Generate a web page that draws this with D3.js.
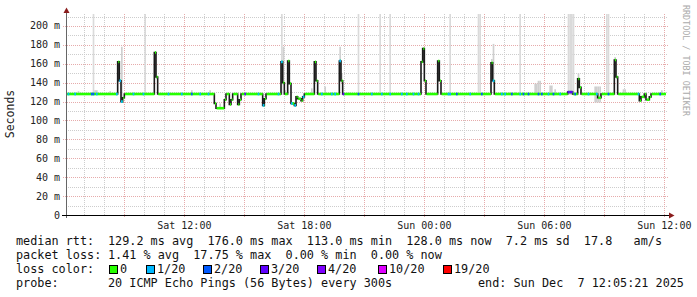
<html>
<head>
<style>
body { margin: 0; background: #fff; }
text { font-family: "DejaVu Sans Mono", monospace; }
</style>
</head>
<body>
<div id="chart"></div>
<script src="https://d3js.org/d3.v7.min.js"></script>
<script>

// median rtt, step changes (ms)
var rttChanges = [
  ["Sat 06:05",128],
  ["Sat 08:40",162],["Sat 08:45",142],["Sat 08:50",120],["Sat 08:55",124],["Sat 09:00",128],
  ["Sat 10:30",172],["Sat 10:35",146],["Sat 10:40",128],
  ["Sat 13:30",118],["Sat 13:35",113],["Sat 14:00",122],["Sat 14:05",128],["Sat 14:15",117],
  ["Sat 14:20",122],["Sat 14:25",128],["Sat 14:40",117],["Sat 14:45",122],["Sat 14:50",128],
  ["Sat 15:55",116],["Sat 16:00",123],["Sat 16:05",128],
  ["Sat 16:50",162],["Sat 16:55",140],["Sat 17:00",128],
  ["Sat 17:10",163],["Sat 17:15",139],["Sat 17:20",118],["Sat 17:30",116],["Sat 17:35",125],
  ["Sat 17:40",123],["Sat 17:50",121],["Sat 17:55",125],["Sat 18:00",128],
  ["Sat 18:30",162],["Sat 18:35",142],["Sat 18:40",128],
  ["Sat 19:45",163],["Sat 19:50",142],["Sat 19:55",128],
  ["Sat 23:50",162],["Sat 23:55",176],["Sun 00:00",142],["Sun 00:05",128],
  ["Sun 00:40",163],["Sun 00:45",142],["Sun 00:50",128],
  ["Sun 03:20",161],["Sun 03:25",142],["Sun 03:30",128],
  ["Sun 07:10",130],["Sun 07:25",128],
  ["Sun 07:40",144],["Sun 07:45",135],["Sun 07:50",128],
  ["Sun 08:40",124],["Sun 08:50",128],
  ["Sun 09:30",164],["Sun 09:35",146],["Sun 09:40",128],
  ["Sun 10:45",121],["Sun 10:50",125],["Sun 11:00",128],["Sun 11:05",122],["Sun 11:15",125],["Sun 11:20",128]
]

// lost pings (of 20) for the 5 min steps that had loss
var lossPoints = [
  ["Sat 06:10",1],["Sat 06:30",1],["Sat 07:20",2],["Sat 07:25",2],["Sat 07:35",1],["Sat 08:35",1],
  ["Sat 08:45",1],["Sat 08:50",1],["Sat 09:25",1],["Sat 09:55",1],["Sat 11:10",1],["Sat 11:50",1],
  ["Sat 12:20",2],["Sat 12:45",1],["Sat 13:10",1],["Sat 15:00",3],["Sat 15:40",1],["Sat 15:55",1],
  ["Sat 16:40",1],["Sat 16:50",1],["Sat 17:20",1],["Sat 17:30",1],["Sat 17:55",1],["Sat 18:50",1],
  ["Sat 19:20",1],["Sat 19:30",1],["Sat 19:45",1],["Sat 19:55",3],["Sat 20:40",2],["Sat 21:20",1],
  ["Sat 21:50",1],["Sat 22:15",1],["Sat 22:50",1],["Sat 23:05",1],["Sat 23:25",1],["Sat 23:40",1],
  ["Sun 01:10",1],["Sun 01:15",1],["Sun 01:35",2],["Sun 02:15",1],["Sun 02:50",2],["Sun 03:25",1],
  ["Sun 03:50",1],["Sun 04:00",1],["Sun 04:20",2],["Sun 04:45",1],["Sun 04:55",2],["Sun 05:10",2],
  ["Sun 05:40",2],["Sun 05:50",2],["Sun 06:10",1],["Sun 06:25",2],["Sun 06:45",1],["Sun 07:10",3],
  ["Sun 07:15",3],["Sun 07:20",3],["Sun 07:30",2],["Sun 08:10",1],["Sun 08:35",1],["Sun 09:10",2],
  ["Sun 10:40",1],["Sun 11:45",2]
]

// steps where some pings went above the top of the graph
var smokeTall = ["Sat 07:25","Sat 10:00","Sat 16:50","Sat 20:40","Sat 21:45","Sat 22:15",
  "Sun 01:15","Sun 02:40","Sun 02:45","Sun 04:45","Sun 07:10","Sun 07:15","Sun 07:20","Sun 07:25",
  "Sun 09:05","Sun 09:10"]

// smaller smoke: [time, low ms, high ms]
var smokeBumps = [
  ["Sat 06:40",127,131],["Sat 07:30",127,132],["Sat 07:35",127,132],["Sat 08:15",127,131],
  ["Sat 08:50",119,178],["Sat 10:35",144,147],["Sat 12:20",127,132],["Sat 13:15",127,132],
  ["Sat 13:45",112,118],["Sat 16:55",138,178],["Sat 17:00",127,132],["Sat 18:20",127,134],
  ["Sat 19:00",127,136],["Sat 19:45",160,178],["Sat 19:50",140,150],["Sat 20:10",127,130],
  ["Sun 03:20",159,165],["Sun 03:25",140,181],["Sun 04:15",127,130],["Sun 04:30",127,130],
  ["Sun 05:30",127,139],["Sun 05:35",127,139],["Sun 05:40",127,142],["Sun 05:45",127,142],
  ["Sun 06:15",127,137],["Sun 06:20",127,137],["Sun 06:30",127,133],["Sun 07:40",140,150],
  ["Sun 08:30",119,136],["Sun 08:35",119,136],["Sun 08:40",119,136],["Sun 08:45",119,136],
  ["Sun 09:30",160,167],["Sun 09:35",144,147],["Sun 09:55",127,133],["Sun 10:00",127,133],
  ["Sun 11:50",127,132]
]

var yTicks = [0,20,40,60,80,100,120,140,160,180,200]
var xLabels = ["Sat 12:00","Sat 18:00","Sun 00:00","Sun 06:00","Sun 12:00"]

var lossLevels = [0,1,2,3,4,10,19]
var lossNames = ["0","1/20","2/20","3/20","4/20","10/20","19/20"]
var lossColors = ["#26ff00","#00b8ff","#0059ff","#5e00ff","#7e00ff","#dd00ff","#ff0000"]

var legendRows = [
  ["median rtt:", "129.2 ms avg  176.0 ms max  113.0 ms min  128.0 ms now  7.2 ms sd  17.8   am/s"],
  ["packet loss:", "1.41 % avg  17.75 % max  0.00 % min  0.00 % now"]
]
var probeText = "20 ICMP Echo Pings (56 Bytes) every 300s"
var endText = "end: Sun Dec  7 12:05:21 2025"

function parseT(s){
  var day = s.slice(0,3) == "Sat" ? 6 : 7
  var hm = s.slice(4).split(":")
  return new Date(2025, 11, day, +hm[0], +hm[1])
}

var start = new Date(2025, 11, 6, 6, 5)
var end = new Date(2025, 11, 7, 12, 5)
var STEP = 5*60*1000

var svg = d3.select("#chart").append("svg")
  .attr("width", 697).attr("height", 297)
  .style("background", "#fff")

var x = d3.scaleTime().domain([start, end]).range([66, 666])
var y = d3.scaleLinear().domain([0, 211.6]).range([215, 15])

// grid
var hours = d3.timeHour.every(1).range(start, end)
svg.append("g").selectAll("line")
  .data(hours.filter(d => d.getHours() % 3 != 0))
  .enter().append("line")
  .attr("x1", d => Math.round(x(d)) + 0.5).attr("x2", d => Math.round(x(d)) + 0.5)
  .attr("y1", 14).attr("y2", 215)
  .attr("stroke", "#cdcdcd").attr("stroke-dasharray", "1,1")

var minorY = d3.range(10, 211, 20)
svg.append("g").selectAll("line")
  .data(minorY)
  .enter().append("line")
  .attr("x1", 66).attr("x2", 668)
  .attr("y1", d => Math.round(y(d)) + 0.5).attr("y2", d => Math.round(y(d)) + 0.5)
  .attr("stroke", "#cdcdcd").attr("stroke-dasharray", "1,1")

svg.append("g").selectAll("line")
  .data(hours.filter(d => d.getHours() % 3 == 0))
  .enter().append("line")
  .attr("x1", d => Math.round(x(d)) + 0.5).attr("x2", d => Math.round(x(d)) + 0.5)
  .attr("y1", 14).attr("y2", 218)
  .attr("stroke", "#e6abab").attr("stroke-dasharray", "1,1")

svg.append("g").selectAll("line")
  .data(yTicks.slice(1))
  .enter().append("line")
  .attr("x1", 63).attr("x2", 668)
  .attr("y1", d => Math.round(y(d)) + 0.5).attr("y2", d => Math.round(y(d)) + 0.5)
  .attr("stroke", "#e6abab").attr("stroke-dasharray", "1,1")

// smoke
var stepW = x(new Date(start.getTime() + STEP)) - x(start)
svg.append("g").selectAll("rect")
  .data(smokeTall)
  .enter().append("rect")
  .attr("x", d => x(parseT(d)))
  .attr("width", stepW)
  .attr("y", 14)
  .attr("height", y(127) - 14)
  .attr("fill", "#dadada")

svg.append("g").selectAll("rect")
  .data(smokeBumps)
  .enter().append("rect")
  .attr("x", d => x(parseT(d[0])))
  .attr("width", stepW)
  .attr("y", d => y(d[2]))
  .attr("height", d => y(d[1]) - y(d[2]))
  .attr("fill", "#cfcfcf")

// median
var rtt = rttChanges.map(d => ({t: parseT(d[0]), v: d[1]}))
rtt.push({t: end, v: rtt[rtt.length-1].v})

var line = d3.line().x(d => x(d.t)).y(d => y(d.v)).curve(d3.curveStepAfter)
svg.append("path")
  .attr("d", line(rtt))
  .attr("fill", "none")
  .attr("stroke", "#1a1a1a")
  .attr("stroke-width", 1.6)

svg.append("g").selectAll("rect")
  .data(rtt.slice(0, -1))
  .enter().append("rect")
  .attr("x", (d,i) => x(d.t) + 0.6)
  .attr("width", (d,i) => Math.max(0.8, x(rtt[i+1].t) - x(d.t) - 0.6))
  .attr("y", d => y(d.v) - 1.3)
  .attr("height", 2.6)
  .attr("fill", lossColors[0])

function rttAt(t){
  var v = rtt[0].v
  rtt.forEach(function(d){ if(d.t <= t) v = d.v })
  return v
}

svg.append("g").selectAll("rect")
  .data(lossPoints)
  .enter().append("rect")
  .attr("x", d => x(parseT(d[0])))
  .attr("width", stepW)
  .attr("y", d => y(rttAt(parseT(d[0]))) - 1.3)
  .attr("height", 2.6)
  .attr("fill", d => lossColors[lossLevels.indexOf(d[1])])

// axes
svg.append("line")
  .attr("x1", 66.5).attr("x2", 66.5).attr("y1", 218).attr("y2", 11)
  .attr("stroke", "#666")
svg.append("path")
  .attr("d", "M63.5,13L69.5,13L66.5,7.5Z")
  .attr("fill", "#8a1c1c")
svg.append("line")
  .attr("x1", 62).attr("x2", 670).attr("y1", 215.5).attr("y2", 215.5)
  .attr("stroke", "#000")
svg.append("path")
  .attr("d", "M669,212.5L669,218.5L674.5,215.5Z")
  .attr("fill", "#8a1c1c")

svg.append("g").selectAll("text")
  .data(yTicks)
  .enter().append("text")
  .attr("x", 60)
  .attr("y", d => y(d) + 3.5)
  .attr("text-anchor", "end")
  .attr("font-size", "10px")
  .attr("fill", "#222")
  .text(d => d == 0 ? "0" : d + " m")

svg.append("g").selectAll("text")
  .data(xLabels)
  .enter().append("text")
  .attr("x", d => x(parseT(d)))
  .attr("y", 229)
  .attr("text-anchor", "middle")
  .attr("font-size", "10px")
  .attr("fill", "#222")
  .text(d => d)

svg.append("text")
  .attr("transform", "translate(14,114) rotate(-90)")
  .attr("text-anchor", "middle")
  .attr("font-size", "11.5px")
  .attr("fill", "#222")
  .text("Seconds")

svg.append("text")
  .attr("transform", "translate(683,5) rotate(90)")
  .attr("font-size", "8.4px")
  .attr("fill", "#aaa")
  .text("RRDTOOL / TOBI OETIKER")

// legend
var lg = svg.append("g").attr("font-size", "11.8px").attr("fill", "#111")
legendRows.forEach(function(r, i){
  lg.append("text").attr("x", 16).attr("y", 245 + i*14).text(r[0])
  lg.append("text").attr("x", 108).attr("y", 245 + i*14)
    .style("white-space", "pre").text(r[1])
})
lg.append("text").attr("x", 16).attr("y", 273).text("loss color:")
var boxX = [109, 146, 203, 260, 317, 378, 443]
lossNames.forEach(function(n, i){
  lg.append("rect")
    .attr("x", boxX[i] + 0.5).attr("y", 265.5)
    .attr("width", 8).attr("height", 8)
    .attr("fill", lossColors[i])
    .attr("stroke", "#000").attr("stroke-width", 1)
  lg.append("text").attr("x", boxX[i] + 11).attr("y", 273).text(n)
})
lg.append("text").attr("x", 16).attr("y", 287).text("probe:")
lg.append("text").attr("x", 108).attr("y", 287).style("white-space", "pre").text(probeText)
lg.append("text").attr("x", 478).attr("y", 287).style("white-space", "pre").text(endText)

</script>
</body>
</html>
